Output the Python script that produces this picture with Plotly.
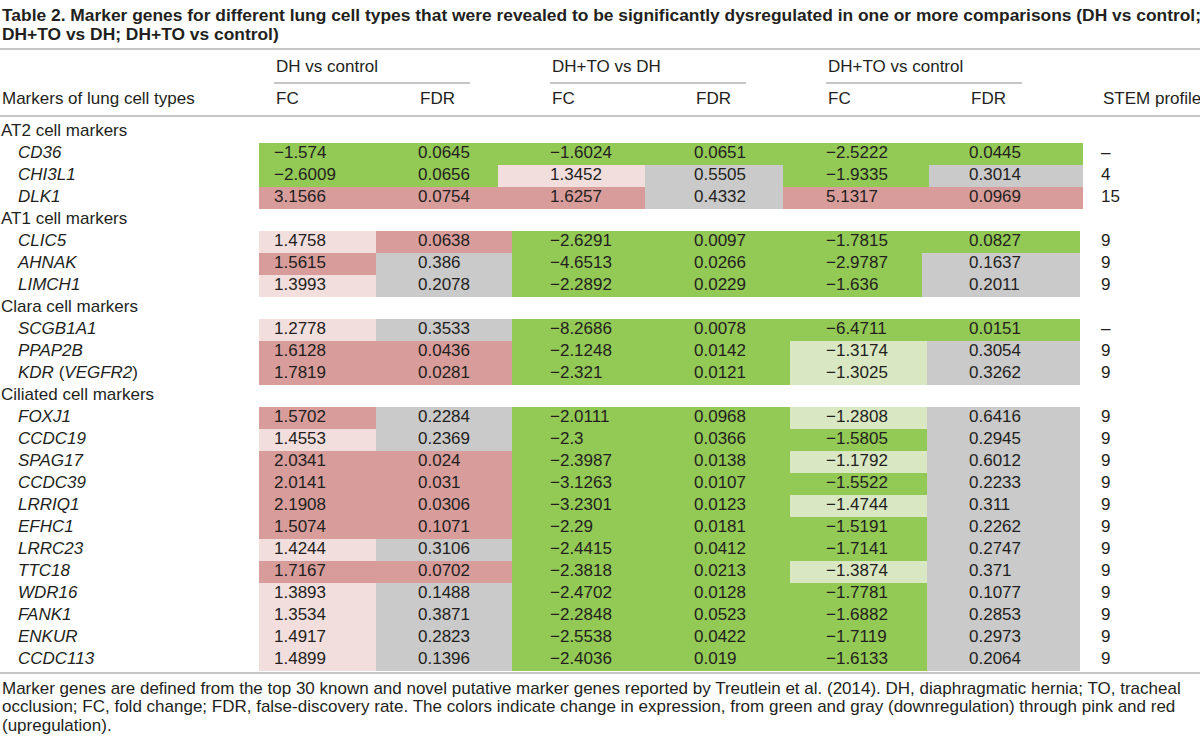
import numpy as np
import plotly.graph_objects as go

# ---------------- data ----------------
title_lines = [
    "Table 2. Marker genes for different lung cell types that were revealed to be significantly dysregulated in one or more comparisons (DH vs control;",
    "DH+TO vs DH; DH+TO vs control)",
]
comparisons = ["DH vs control", "DH+TO vs DH", "DH+TO vs control"]
sub_headers = ["FC", "FDR", "FC", "FDR", "FC", "FDR"]
first_header = "Markers of lung cell types"
stem_header = "STEM profile"

groups = ["AT2 cell markers", "AT1 cell markers", "Clara cell markers", "Ciliated cell markers"]
genes = ["CD36", "CHI3L1", "DLK1",
         "CLIC5", "AHNAK", "LIMCH1",
         "SCGB1A1", "PPAP2B", "KDR (VEGFR2)",
         "FOXJ1", "CCDC19", "SPAG17", "CCDC39", "LRRIQ1", "EFHC1", "LRRC23",
         "TTC18", "WDR16", "FANK1", "ENKUR", "CCDC113"]
gene_group = [0, 0, 0, 1, 1, 1, 2, 2, 2, 3, 3, 3, 3, 3, 3, 3, 3, 3, 3, 3, 3]

fc_dh_ctrl = ["−1.574", "−2.6009", "3.1566", "1.4758", "1.5615", "1.3993", "1.2778", "1.6128", "1.7819",
              "1.5702", "1.4553", "2.0341", "2.0141", "2.1908", "1.5074", "1.4244", "1.7167", "1.3893",
              "1.3534", "1.4917", "1.4899"]
fdr_dh_ctrl = ["0.0645", "0.0656", "0.0754", "0.0638", "0.386", "0.2078", "0.3533", "0.0436", "0.0281",
               "0.2284", "0.2369", "0.024", "0.031", "0.0306", "0.1071", "0.3106", "0.0702", "0.1488",
               "0.3871", "0.2823", "0.1396"]
fc_to_dh = ["−1.6024", "1.3452", "1.6257", "−2.6291", "−4.6513", "−2.2892", "−8.2686", "−2.1248", "−2.321",
            "−2.0111", "−2.3", "−2.3987", "−3.1263", "−3.2301", "−2.29", "−2.4415", "−2.3818", "−2.4702",
            "−2.2848", "−2.5538", "−2.4036"]
fdr_to_dh = ["0.0651", "0.5505", "0.4332", "0.0097", "0.0266", "0.0229", "0.0078", "0.0142", "0.0121",
             "0.0968", "0.0366", "0.0138", "0.0107", "0.0123", "0.0181", "0.0412", "0.0213", "0.0128",
             "0.0523", "0.0422", "0.019"]
fc_to_ctrl = ["−2.5222", "−1.9335", "5.1317", "−1.7815", "−2.9787", "−1.636", "−6.4711", "−1.3174", "−1.3025",
              "−1.2808", "−1.5805", "−1.1792", "−1.5522", "−1.4744", "−1.5191", "−1.7141", "−1.3874", "−1.7781",
              "−1.6882", "−1.7119", "−1.6133"]
fdr_to_ctrl = ["0.0445", "0.3014", "0.0969", "0.0827", "0.1637", "0.2011", "0.0151", "0.3054", "0.3262",
               "0.6416", "0.2945", "0.6012", "0.2233", "0.311", "0.2262", "0.2747", "0.371", "0.1077",
               "0.2853", "0.2973", "0.2064"]
stem_profile = ["–", "4", "15", "9", "9", "9", "–", "9", "9",
                "9", "9", "9", "9", "9", "9", "9", "9", "9", "9", "9", "9"]

# colour class of each cell: G green, L light green, Y grey, P pink, R red
cls_fc_dh_ctrl = ["G", "G", "R", "P", "R", "P", "P", "R", "R",
                  "R", "P", "R", "R", "R", "R", "P", "R", "P", "P", "P", "P"]
cls_fdr_dh_ctrl = ["G", "G", "R", "R", "Y", "Y", "Y", "R", "R",
                   "Y", "Y", "R", "R", "R", "R", "Y", "R", "Y", "Y", "Y", "Y"]
cls_fc_to_dh = ["G", "P", "R", "G", "G", "G", "G", "G", "G",
                "G", "G", "G", "G", "G", "G", "G", "G", "G", "G", "G", "G"]
cls_fdr_to_dh = ["G", "Y", "Y", "G", "G", "G", "G", "G", "G",
                 "G", "G", "G", "G", "G", "G", "G", "G", "G", "G", "G", "G"]
cls_fc_to_ctrl = ["G", "G", "R", "G", "G", "G", "G", "L", "L",
                  "L", "G", "L", "G", "L", "G", "G", "L", "G", "G", "G", "G"]
cls_fdr_to_ctrl = ["G", "Y", "R", "G", "Y", "Y", "G", "Y", "Y",
                   "Y", "Y", "Y", "Y", "Y", "Y", "Y", "Y", "Y", "Y", "Y", "Y"]

footnote_lines = [
    "Marker genes are defined from the top 30 known and novel putative marker genes reported by Treutlein et al. (2014). DH, diaphragmatic hernia; TO, tracheal",
    "occlusion; FC, fold change; FDR, false-discovery rate. The colors indicate change in expression, from green and gray (downregulation) through pink and red",
    "(upregulation).",
]

# ---------------- styling / layout constants ----------------
W, H = 1200, 746
FONT = "Liberation Sans, Arial, Helvetica, sans-serif"
TXT = "#231f20"
BODY = 17
class_order = ["G", "L", "Y", "P", "R"]
class_color = {"G": "#93c955", "L": "#d9e7c3", "Y": "#cacaca", "P": "#f3dede", "R": "#d89d9b"}

# cell column edges per row group (the original shading is slightly irregular)
group_col_edges = [
    [259, 376, 498, 645, 783, 929, 1083],
    [259, 376, 512, 645, 786, 922, 1080],
    [259, 376, 512, 645, 790, 927, 1080],
    [259, 376, 512, 645, 790, 927, 1080],
]
col_text_x = [274, 418, 550, 694, 826, 969]
stem_x = 1101
row0, pitch = 132, 22
rule_color = "#8e8e8e"

# ---------------- build row structure ----------------
row_label, row_is_section, row_gene_idx, row_group = [], [], [], []
for g, gname in enumerate(groups):
    row_label.append(gname); row_is_section.append(True); row_gene_idx.append(None); row_group.append(g)
    for i, gg in enumerate(gene_group):
        if gg == g:
            row_label.append(genes[i]); row_is_section.append(False); row_gene_idx.append(i); row_group.append(g)
n_rows = len(row_label)
row_y = [row0 + pitch * r for r in range(n_rows)]

value_cols = [fc_dh_ctrl, fdr_dh_ctrl, fc_to_dh, fdr_to_dh, fc_to_ctrl, fdr_to_ctrl]
class_cols = [cls_fc_dh_ctrl, cls_fdr_dh_ctrl, cls_fc_to_dh, cls_fdr_to_dh, cls_fc_to_ctrl, cls_fdr_to_ctrl]

n_cls = len(class_order)
colorscale = []
for k, key in enumerate(class_order):
    colorscale.append([k / n_cls, class_color[key]])
    colorscale.append([(k + 1) / n_cls, class_color[key]])

fig = go.Figure()

# one heatmap per row group (gene rows only)
for g in range(len(groups)):
    rows = [r for r in range(n_rows) if row_group[r] == g and not row_is_section[r]]
    z = np.array([[class_order.index(class_cols[c][row_gene_idx[r]]) for c in range(6)] for r in rows],
                 dtype=float)
    y_edges = [row_y[rows[0]] - pitch / 2 + pitch * k for k in range(len(rows) + 1)]
    fig.add_trace(go.Heatmap(
        z=z, x=group_col_edges[g], y=y_edges, zmin=-0.5, zmax=n_cls - 0.5,
        colorscale=colorscale, showscale=False, hoverinfo="skip", xgap=0, ygap=0,
    ))

# cell texts
for c in range(6):
    xs, ys, ts = [], [], []
    for r in range(n_rows):
        gi = row_gene_idx[r]
        if gi is None:
            continue
        xs.append(col_text_x[c]); ys.append(row_y[r]); ts.append(value_cols[c][gi])
    fig.add_trace(go.Scatter(x=xs, y=ys, text=ts, mode="text", textposition="middle right",
                             textfont=dict(family=FONT, size=BODY, color=TXT), hoverinfo="skip",
                             showlegend=False, cliponaxis=False))

# stem profile
xs, ys, ts = [], [], []
for r in range(n_rows):
    gi = row_gene_idx[r]
    if gi is None:
        continue
    xs.append(stem_x); ys.append(row_y[r]); ts.append(stem_profile[gi])
fig.add_trace(go.Scatter(x=xs, y=ys, text=ts, mode="text", textposition="middle right",
                         textfont=dict(family=FONT, size=BODY, color=TXT), hoverinfo="skip",
                         showlegend=False, cliponaxis=False))


# row labels
def fmt_gene(name):
    if "(" in name:
        a, b = name.split(" (")
        return f"<i>{a}</i> (<i>{b.rstrip(')')}</i>)"
    return f"<i>{name}</i>"


xs, ys, ts = [], [], []
for r in range(n_rows):
    if row_is_section[r]:
        xs.append(1); ts.append(row_label[r])
    else:
        xs.append(18); ts.append(fmt_gene(row_label[r]))
    ys.append(row_y[r])
fig.add_trace(go.Scatter(x=xs, y=ys, text=ts, mode="text", textposition="middle right",
                         textfont=dict(family=FONT, size=BODY, color=TXT), hoverinfo="skip",
                         showlegend=False, cliponaxis=False))

ann = []


def add_text(x, y, t, size=BODY, bold=False):
    ann.append(dict(x=x, y=y, xref="x", yref="y", text=(f"<b>{t}</b>" if bold else t),
                    showarrow=False, xanchor="left", yanchor="middle",
                    font=dict(family=FONT, size=size, color=TXT)))


add_text(0, 15, title_lines[0], size=17.4, bold=True)
add_text(0, 34, title_lines[1], size=17.4, bold=True)
for k, comp in enumerate(comparisons):
    add_text(col_text_x[2 * k], 66, comp)
for c, sh in enumerate(sub_headers):
    add_text(col_text_x[c], 98, sh)
add_text(0, 98, first_header)
add_text(stem_x, 98, stem_header)
for k, line in enumerate(footnote_lines):
    add_text(0, 688 + 18.5 * k, line)

shapes = []


def hline(x0, x1, y, w=1.2):
    shapes.append(dict(type="line", xref="x", yref="y", x0=x0, x1=x1, y0=y, y1=y,
                       line=dict(color=rule_color, width=w)))


hline(0, W, 49)
for k in range(3):
    hline(col_text_x[2 * k], col_text_x[2 * k] + 196, 83)
hline(0, W, 116)
hline(0, W, 673)

fig.update_layout(
    width=W, height=H, margin=dict(l=0, r=0, t=0, b=0),
    paper_bgcolor="white", plot_bgcolor="white",
    xaxis=dict(range=[0, W], visible=False, fixedrange=True),
    yaxis=dict(range=[H, 0], visible=False, fixedrange=True),
    annotations=ann, shapes=shapes, showlegend=False,
)
# remove the default 8px page margin so the figure sits at the window's top-left corner
fig.write_html("out.html",
               config={"displayModeBar": False, "staticPlot": True},
               post_script="document.body.style.margin='0';document.body.style.overflow='hidden';")
